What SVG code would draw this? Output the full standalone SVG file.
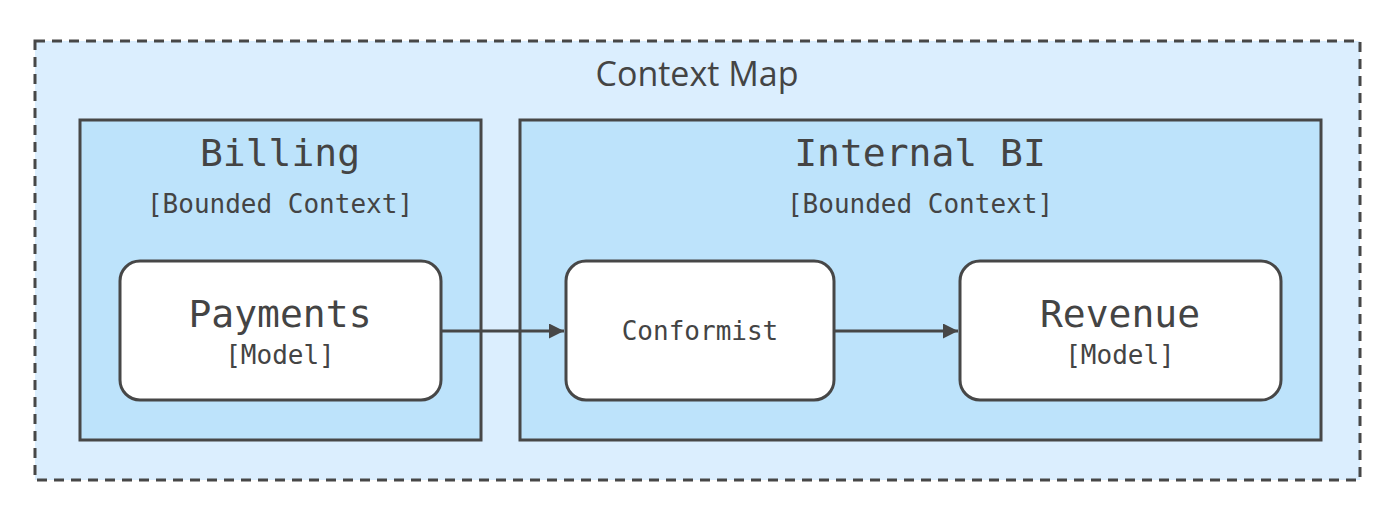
<svg xmlns="http://www.w3.org/2000/svg" width="1400" height="520" viewBox="0 0 1400 520">
<style>
.box{stroke:#474747;stroke-width:3}
.m{font-family:"DejaVu Sans Mono","Liberation Mono",monospace;fill:#444;text-anchor:middle}
.s{font-family:"Open Sans","Liberation Sans",sans-serif;fill:#444;text-anchor:middle}
.ln{stroke:#474747;stroke-width:3;fill:none}
</style>
<defs><marker id="a" viewBox="0 0 10 10" refX="10" refY="5" markerWidth="5" markerHeight="5" orient="auto"><path d="M0,0L10,5L0,10z" fill="#474747"/></marker></defs>
<rect width="1400" height="520" fill="#fff"/>
<g id="contextmap"><rect x="35" y="41" width="1325" height="439" fill="#dbeefe" class="box" stroke-dasharray="10,7"/>
<text x="697" y="86" class="s" font-size="34">Context Map</text></g>
<g id="billing"><rect x="80" y="120" width="401" height="320" fill="#bde3fb" class="box"/>
<text x="280" y="166" class="m" font-size="38">Billing</text>
<text x="280" y="213" class="m" font-size="26">[Bounded Context]</text></g>
<g id="internalbi"><rect x="520" y="120" width="801" height="320" fill="#bde3fb" class="box"/>
<text x="920" y="166" class="m" font-size="38">Internal BI</text>
<text x="920" y="213" class="m" font-size="26">[Bounded Context]</text></g>
<g id="payments"><rect x="120" y="261" width="321" height="139" rx="20" fill="#fff" class="box"/>
<text x="280" y="327" class="m" font-size="38">Payments</text>
<text x="280" y="364" class="m" font-size="26">[Model]</text></g>
<g id="conformist"><rect x="566" y="261" width="268" height="139" rx="20" fill="#fff" class="box"/>
<text x="700" y="340" class="m" font-size="26">Conformist</text></g>
<g id="revenue"><rect x="960" y="261" width="321" height="139" rx="20" fill="#fff" class="box"/>
<text x="1120" y="327" class="m" font-size="38">Revenue</text>
<text x="1120" y="364" class="m" font-size="26">[Model]</text></g>
<g id="connectors">
<line x1="441" y1="331" x2="564" y2="331" class="ln" marker-end="url(#a)"/>
<line x1="834" y1="331" x2="958" y2="331" class="ln" marker-end="url(#a)"/>
</g>
</svg>
